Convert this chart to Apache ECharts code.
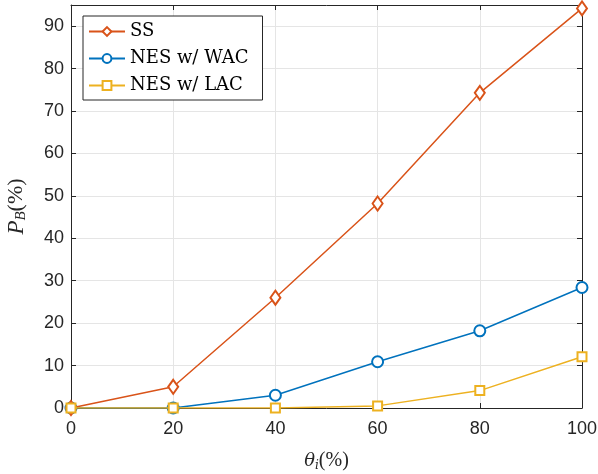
<!DOCTYPE html>
<html><head><meta charset="utf-8">
<script src="https://cdn.jsdelivr.net/npm/echarts@6/dist/echarts.min.js"></script>
<style>html,body{margin:0;padding:0;background:#fff}#c{width:598px;height:474px}</style>
</head><body><div id="c"></div>
<script>
const xValues = [0, 20, 40, 60, 80, 100];
const ssValues = [0, 5.0, 26.0, 48.2, 74.3, 94.2];
const wacValues = [0, 0, 3.0, 10.9, 18.2, 28.4];
const lacValues = [0, 0, 0, 0.5, 4.1, 12.1];
const seriesNames = ['SS', 'NES w/ WAC', 'NES w/ LAC'];

const axisCol = '#262626';
const gridCol = '#e5e5e5';
const tickFont = {fontFamily: 'Liberation Sans', fontSize: 18, color: axisCol};

function pairs(v){ return xValues.map((x,i)=>[x, v[i]]); }

const chart = echarts.init(document.getElementById('c'), null, {renderer:'canvas'});
const baseX = {type:'value', min:0, max:100, interval:20,
  axisLine:{show:true, onZero:false, lineStyle:{color:axisCol, width:1}},
  axisTick:{show:true, inside:true, length:5, lineStyle:{color:axisCol}},
  splitLine:{show:false}};
const baseY = {type:'value', min:0, max:95, interval:10,
  axisLine:{show:true, onZero:false, lineStyle:{color:axisCol, width:1}},
  axisTick:{show:true, inside:true, length:5, lineStyle:{color:axisCol}},
  splitLine:{show:false}};
chart.setOption({
  animation:false,
  backgroundColor:'#fff',
  grid:{left:71, right:16, top:5, bottom:66, containLabel:false, outerBoundsMode:'none'},
  xAxis:[
    Object.assign({}, baseX, {position:'bottom',
      splitLine:{show:true, lineStyle:{color:gridCol, width:1}},
      axisLabel:Object.assign({margin:12}, tickFont),
      name:'{i|θ}{s|i}{n|(%)}', nameLocation:'middle', nameGap:42,
      nameTextStyle:{rich:{
        i:{fontFamily:'DejaVu Serif', fontStyle:'italic', fontSize:18, color:axisCol},
        s:{fontFamily:'DejaVu Serif', fontStyle:'italic', fontSize:12, color:axisCol, verticalAlign:'bottom', padding:[10,0,0,0]},
        n:{fontFamily:'Liberation Serif', fontSize:20, color:axisCol}}}}),
    Object.assign({}, baseX, {position:'top', axisLabel:{show:false}})
  ],
  yAxis:[
    Object.assign({}, baseY, {position:'left',
      splitLine:{show:true, lineStyle:{color:gridCol, width:1}},
      axisLabel:Object.assign({margin:7, showMaxLabel:false}, tickFont),
      name:'{i|P}{s|B}{n|(%)}', nameLocation:'middle', nameGap:42, nameRotate:90,
      nameTextStyle:{rich:{
        i:{fontFamily:'Liberation Serif', fontStyle:'italic', fontSize:23, color:axisCol},
        s:{fontFamily:'Liberation Serif', fontStyle:'italic', fontSize:15, color:axisCol, verticalAlign:'bottom', padding:[10,0,0,0]},
        n:{fontFamily:'Liberation Serif', fontSize:22, color:axisCol}}}}),
    Object.assign({}, baseY, {position:'right', axisLabel:{show:false}})
  ],
  legend:{
    show:true, left:83, top:16, orient:'vertical',
    data:seriesNames,
    backgroundColor:'#fff', borderColor:axisCol, borderWidth:1,
    padding:[5,14,4,5], itemGap:6, itemWidth:36, itemHeight:11,
    textStyle:{fontFamily:'DejaVu Serif', fontSize:18, color:'#000', lineHeight:21}
  },
  series:[
    {name:seriesNames[0], type:'line', data:pairs(ssValues), symbol:'emptyDiamond', symbolSize:[10,14],
      lineStyle:{color:'#D95319', width:1.5}, itemStyle:{color:'#D95319', borderWidth:1.5}, z:3},
    {name:seriesNames[1], type:'line', data:pairs(wacValues), symbol:'emptyCircle', symbolSize:11,
      lineStyle:{color:'#0072BD', width:1.5}, itemStyle:{color:'#0072BD', borderWidth:1.5}, z:2},
    {name:seriesNames[2], type:'line', data:pairs(lacValues), symbol:'emptyRect', symbolSize:9,
      lineStyle:{color:'#EDB120', width:1.5}, itemStyle:{color:'#EDB120', borderWidth:1.5}, z:4}
  ]
});
</script></body></html>
